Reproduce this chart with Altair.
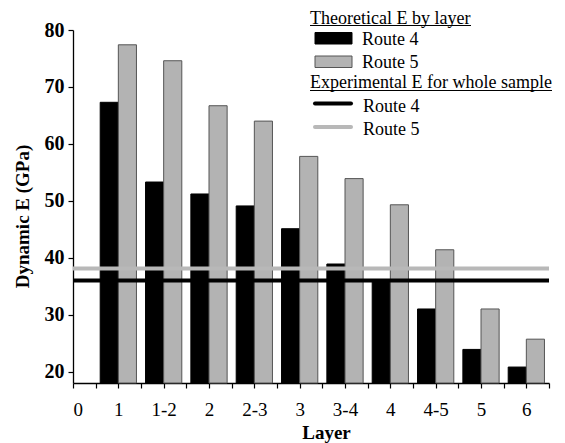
import json
import altair as alt
import pandas as pd

# ---- data ----
layers = ["1", "1-2", "2", "2-3", "3", "3-4", "4", "4-5", "5", "6"]
route4 = [67.3, 53.3, 51.2, 49.1, 45.1, 38.9, 36.0, 31.0, 23.9, 20.8]
route5 = [77.4, 74.6, 66.7, 64.0, 57.8, 53.9, 49.3, 41.4, 31.0, 25.7]
exp_routes = ["Route 4", "Route 5"]
exp_values = [36.0, 38.1]
tick_labels = ["0"] + layers
y_ticks = list(range(20, 81, 5))

W, H = 476, 353
FONT = "'Liberation Serif', 'Times New Roman', 'DejaVu Serif', serif"
BLACK = "#000000"
GREY = "#b3b3b3"
GREY_LINE = "#b8b8b8"

rows = []
for i, lay in enumerate(layers):
    rows.append({"layer": lay, "idx": i + 1, "route": "Route 4", "E": route4[i]})
    rows.append({"layer": lay, "idx": i + 1, "route": "Route 5", "E": route5[i]})
bars_df = pd.DataFrame(rows)
exp_df = pd.DataFrame({"route": exp_routes, "E": exp_values})

x_scale = alt.Scale(domain=[0, 10.5], nice=False, zero=False)
y_scale = alt.Scale(domain=[18, 80], nice=False, zero=False)

x_axis = alt.Axis(
    values=[i * 0.5 for i in range(22)],
    labelExpr="datum.value % 1 === 0 ? " + json.dumps(tick_labels) + "[datum.value] : ''",
    title="Layer", titleFont=FONT, titleFontSize=19, titleFontWeight="bold",
    titleColor=BLACK, titleX=253, titleY=55, titleBaseline="alphabetic",
    labelFont=FONT, labelFontSize=19, labelColor=BLACK,
    labelBaseline="alphabetic", labelPadding=27,
    tickSize=5, tickColor=BLACK, domainColor=BLACK, domainWidth=1.3, tickWidth=1.2,
    grid=False, labelOverlap=False,
)
y_axis = alt.Axis(
    values=y_ticks,
    labelExpr="datum.value % 10 === 0 ? datum.label : ''",
    title="Dynamic E (GPa)", titleFont=FONT, titleFontSize=19, titleFontWeight="bold",
    titleColor=BLACK, titlePadding=12, titleY=186,
    labelFont=FONT, labelFontSize=20, labelFontWeight="bold", labelColor=BLACK,
    labelPadding=4, tickSize=5, tickColor=BLACK, domainColor=BLACK,
    domainWidth=1.3, tickWidth=1.2, grid=False,
)

bars = alt.Chart(bars_df).transform_calculate(
    x0="datum.route === 'Route 4' ? datum.idx - 0.4 : datum.idx",
    x1="datum.route === 'Route 4' ? datum.idx : datum.idx + 0.4",
).mark_bar(strokeWidth=1).encode(
    x=alt.X("x0:Q", scale=x_scale, axis=x_axis),
    x2="x1:Q",
    y=alt.Y("E:Q", scale=y_scale, axis=y_axis),
    y2=alt.datum(18),
    fill=alt.Fill("route:N", scale=alt.Scale(domain=exp_routes, range=[BLACK, GREY]), legend=None),
    stroke=alt.condition(alt.datum.route == "Route 4", alt.value(BLACK), alt.value("#555555")),
)

rules = alt.Chart(exp_df).mark_rule(strokeWidth=4).encode(
    y=alt.Y("E:Q", scale=y_scale),
    x=alt.value(0),
    x2=alt.value(W),
    stroke=alt.Stroke("route:N", scale=alt.Scale(domain=exp_routes, range=[BLACK, GREY_LINE]), legend=None),
)

one = alt.Data(values=[{}])


def text(s, x, y):
    return alt.Chart(one).mark_text(
        font=FONT, fontSize=18, align="left", baseline="alphabetic", color=BLACK
    ).encode(x=alt.value(x), y=alt.value(y), text=alt.value(s))


def hline(x1, x2, y, color, width, cap="butt"):
    return alt.Chart(one).mark_rule(color=color, strokeWidth=width, strokeCap=cap).encode(
        x=alt.value(x1), x2=alt.value(x2), y=alt.value(y)
    )


def swatch(x1, x2, y1, y2, fill, stroke):
    return alt.Chart(one).mark_rect(fill=fill, stroke=stroke, strokeWidth=1).encode(
        x=alt.value(x1), x2=alt.value(x2), y=alt.value(y1), y2=alt.value(y2)
    )


legend = [
    text("Theoretical E by layer", 237, -6.5),
    hline(237, 398, -4.5, BLACK, 1),
    swatch(242, 279, 2.5, 14, BLACK, BLACK),
    text("Route 4", 289, 14.5),
    swatch(242, 279, 26, 37.5, GREY, "#555555"),
    text("Route 5", 289, 38),
    text("Experimental E for whole sample", 237, 58),
    hline(237, 479, 60.5, BLACK, 1),
    hline(242, 278, 73.5, BLACK, 4, "round"),
    text("Route 4", 290, 81.5),
    hline(242, 278, 97, GREY_LINE, 4, "round"),
    text("Route 5", 290, 105),
]

chart = alt.layer(bars, rules, *legend).properties(
    width=W, height=H,
    autosize=alt.AutoSizeParams(type="none"),
    padding={"left": 65, "top": 22, "right": 8, "bottom": 60},
    background="white",
).configure_view(stroke=None)

chart.save("out.html", embed_options={"renderer": "svg", "actions": False})
